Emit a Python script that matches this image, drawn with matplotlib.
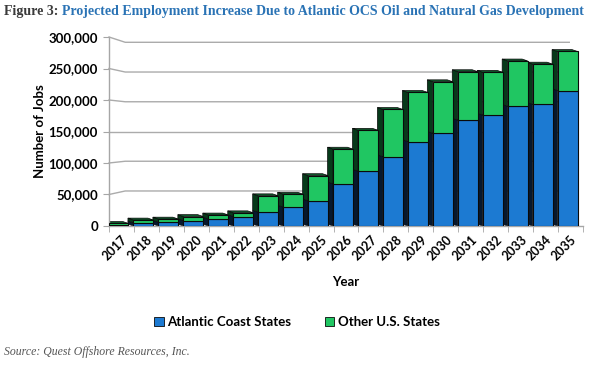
import matplotlib
matplotlib.use("Agg")
import matplotlib.pyplot as plt
import numpy as np
from matplotlib.patches import Patch

years = [str(y) for y in range(2017, 2036)]
atlantic = [2000, 5000, 6000, 8500, 11000, 15000, 22000, 30000, 40000, 67000,
            87000, 110000, 134000, 147000, 168000, 176000, 190000, 193000, 215000]
other = [2000, 4500, 5000, 6500, 6500, 6000, 26000, 20500, 40000, 55000,
         65000, 75000, 78000, 82000, 77000, 68000, 72000, 64000, 62000]
yticks = [0, 50000, 100000, 150000, 200000, 250000, 300000]
series_names = ["Atlantic Coast States", "Other U.S. States"]

front_cols = ["#1c7ad2", "#20c662"]
side_cols = ["#06182e", "#063a1a"]
top_cols = ["#0d3f73", "#0f5a2c"]

plt.rcParams['font.family'] = ['Lato', 'DejaVu Sans']

fig = plt.figure(figsize=(5.94, 3.68), dpi=100)
ax = fig.add_axes([109/594, 1-226/368, (583-109)/594, (226-37)/368])

n = len(years)
x = np.arange(n) - 0.12
w = 0.8
dx = 0.22   # depth offset in x (data units)
dy = 3000   # depth offset in y (data units)

ax.set_xlim(-0.5, n - 0.5)
ax.set_ylim(0, 300000)
x_back0 = -0.5 + 0.65
x_back1 = n - 1.05
for v in yticks[1:]:
    vb = 150000 + (v - 150000) * 0.944
    ax.plot([-0.5, x_back0, x_back1], [v, vb, vb], color="#ababab", lw=1.0,
            zorder=0.5, clip_on=False)

atl = np.array(atlantic)
oth = np.array(other)
for k, (bottoms, heights) in enumerate([(np.zeros(n), atl), (atl, oth)]):
    ax.bar(x, heights, w, bottom=bottoms, color=front_cols[k],
           edgecolor="#0a0a0a", linewidth=0.8, zorder=3)
    for i in range(n):
        xl = x[i] - w / 2
        xr = x[i] + w / 2
        b = bottoms[i]
        t = bottoms[i] + heights[i]
        ax.fill([xl, xl, xl - dx, xl - dx], [b, t, t + dy, b + dy],
                color=side_cols[k], ec="#0a0a0a", lw=0.5, zorder=2)
        if k == 1:
            ax.fill([xl, xr, xr - dx, xl - dx], [t, t, t + dy, t + dy],
                    color=top_cols[k], ec="#0a0a0a", lw=0.5, zorder=2.5)

for s in ["top", "right"]:
    ax.spines[s].set_visible(False)
for s in ["left", "bottom"]:
    ax.spines[s].set_color("#a6a6a6")
    ax.spines[s].set_linewidth(1.0)

ax.set_yticks(yticks)
ax.set_yticklabels([f"{v:,}" for v in yticks], fontsize=9.5, fontweight="bold")
ax.tick_params(axis="y", length=4, color="#a6a6a6", pad=4)

ax.set_xticks(np.arange(n))
ax.set_xticklabels(years, rotation=45, ha="right", rotation_mode="anchor",
                   fontsize=9, fontweight="bold")
ax.tick_params(axis="x", length=0, pad=5)
ax.set_xticks(np.arange(n + 1) - 0.5, minor=True)
ax.tick_params(axis="x", which="minor", length=4, color="#a6a6a6")

ax.set_ylabel("Number of Jobs", fontsize=9.5, fontweight="bold", labelpad=2)
ax.set_xlabel("Year", fontsize=9.5, fontweight="bold", labelpad=10)

handles = [Patch(facecolor=front_cols[0], edgecolor="#0a0a0a", lw=0.6),
           Patch(facecolor=front_cols[1], edgecolor="#0a0a0a", lw=0.6)]
leg = fig.legend(handles, series_names, loc="center", bbox_to_anchor=(0.5, 1 - 322/368),
                 ncol=2, frameon=False, handlelength=0.7, handleheight=0.7,
                 handletextpad=0.3, columnspacing=2.5, fontsize=9.5)
for txt in leg.get_texts():
    txt.set_fontweight("bold")

t1 = fig.text(4/594, 1 - 12/368, "Figure 3: ", family=["Liberation Serif"],
              fontweight="bold", fontsize=10, color="#3a3a3a", va="center")
ax.annotate("Projected Employment Increase Due to Atlantic OCS Oil and Natural Gas Development",
            xy=(1, 0.5), xycoords=t1, va="center", ha="left",
            family=["Liberation Serif"], fontweight="bold", fontsize=10,
            color="#2a73b5", annotation_clip=False)

fig.text(4/594, 1 - 352/368, "Source: Quest Offshore Resources, Inc.",
         family=["Liberation Serif"], style="italic", fontsize=8.5,
         color="#555555", va="center")

fig.savefig("out.png", dpi=100)
